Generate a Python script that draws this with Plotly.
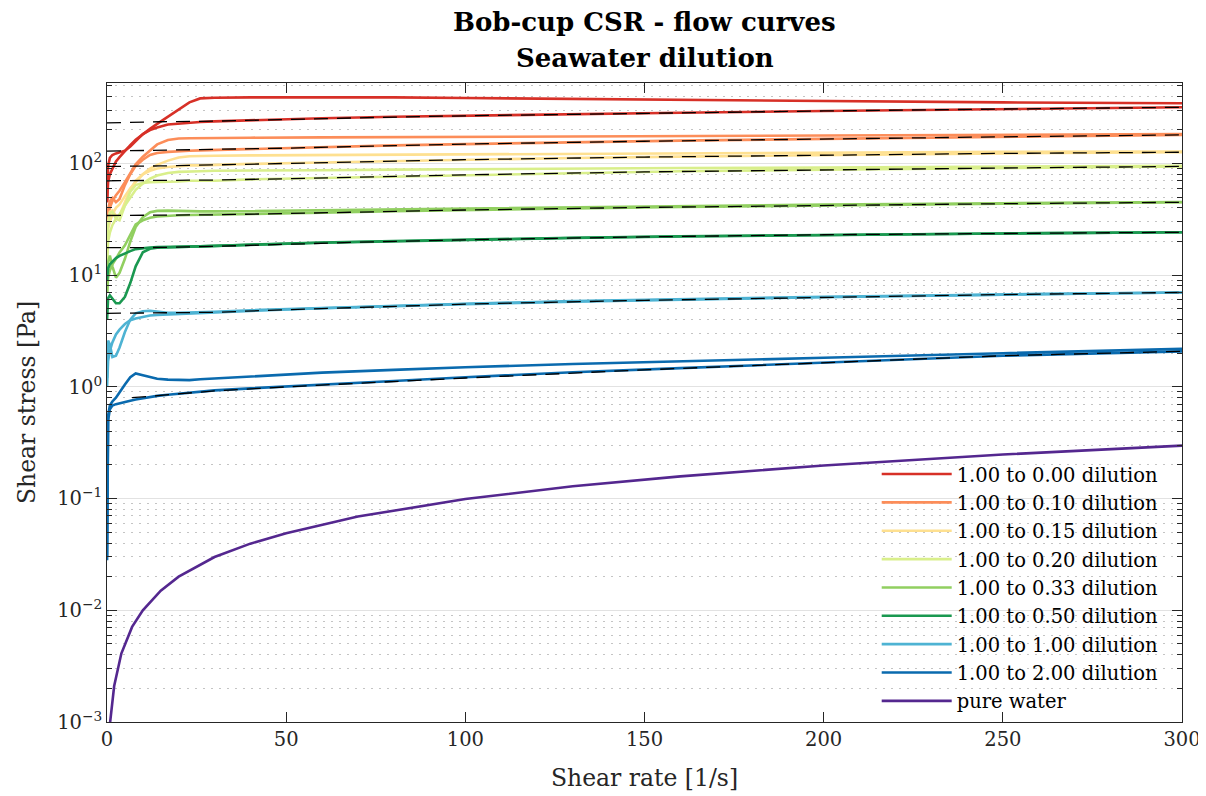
import plotly.graph_objects as go

# shared shear-rate grid for the measured runs [1/s]
RATE = [0.02, 0.3, 0.8, 1.5, 2.5, 3.5, 5, 6.5, 8, 10, 12, 14, 17, 20, 23, 26, 30,
        40, 60, 80, 100, 130, 160, 200, 250, 300]
# shear-rate grid for the model fits
FIT_RATE = [0, 7, 15, 30, 50, 75, 100, 150, 200, 250, 300]

LABELS = ["1.00 to 0.00 dilution", "1.00 to 0.10 dilution", "1.00 to 0.15 dilution",
          "1.00 to 0.20 dilution", "1.00 to 0.33 dilution", "1.00 to 0.50 dilution",
          "1.00 to 1.00 dilution", "1.00 to 2.00 dilution"]
COLORS = ["#d73027", "#fc8d59", "#fee090", "#d9ef8b", "#91cf60", "#1a9850",
          "#4eb3d3", "#0a6aae"]

# y tick labels
Y_TICKS = [0.001, 0.01, 0.1, 1, 10, 100]
Y_TICKTEXT = ["10<sup>−3</sup>", "10<sup>−2</sup>", "10<sup>−1</sup>", "10<sup>0</sup>",
              "10<sup>1</sup>", "10<sup>2</sup>"]
X_TICKS = [0, 50, 100, 150, 200, 250, 300]

# shear stress [Pa], run 1 / run 2 / fit, per dilution
d000_run1 = [45, 68, 80, 90, 104, 114, 130, 146, 163, 183, 204, 226, 263, 303, 352, 382, 387,
             390, 392, 390, 385, 378, 372, 362, 352, 346]
d000_run2 = [45, 95, 112, 119, 123, 125, 130, 142, 158, 183, 199, 210, 223, 228, 232, 235, 238,
             244, 254, 262, 268, 277, 284, 295, 307, 318]
d000_fit = [231, 234, 236, 239, 248, 258, 267, 282, 295, 307, 318]

d010_run1 = [22, 33, 40, 46, 52, 57, 68, 82, 98, 115, 130, 148, 162, 167, 168, 168, 169,
             170, 171, 172, 173, 174, 176, 177, 179, 183]
d010_run2 = [22, 38, 46, 49, 45, 48, 64, 80, 95, 108, 119, 124, 127, 129, 130, 131, 132,
             135, 140, 145, 149, 155, 160, 166, 173, 180]
d010_fit = [129, 130, 131, 133, 137, 143, 149, 158, 166, 173, 180]

d015_run1 = [16, 26, 30, 35, 40, 43, 51, 60, 68, 80, 90, 97, 106, 113, 116, 117, 117,
             118, 119, 120, 121, 122, 123, 125, 127, 128]
d015_run2 = [16, 30, 37, 38, 34, 34, 45, 58, 70, 80, 86, 90, 93, 95, 96, 96, 97,
             99, 102, 105, 108, 112, 115, 119, 123, 126]
d015_fit = [94, 94, 95, 97, 100, 104, 108, 114, 119, 123, 126]

d020_run1 = [13, 20, 24, 28, 32, 35, 42, 50, 58, 66, 73, 78, 82, 84, 85, 85, 86,
             86, 87, 88, 89, 90, 91, 92, 94, 95]
d020_run2 = [13, 28, 36, 37, 32, 31, 42, 56, 64, 67, 68, 68, 69, 69, 70, 70, 70,
             72, 74, 77, 79, 82, 85, 88, 91, 94]
d020_fit = [70, 70, 70, 71, 73, 76, 79, 84, 88, 91, 94]

d033_run1 = [7, 13, 15, 12, 9.5, 10.5, 14, 20, 27, 33, 36.5, 37.6, 37.8, 37.5, 37.3, 37.2, 37.2,
             37.5, 38.3, 39, 39.8, 40.8, 41.7, 42.8, 44, 45.2]
d033_run2 = [7, 9.5, 11, 12.5, 14, 16, 18.5, 23, 28.5, 31, 32.7, 33.5, 34.2, 34.4, 34.5, 34.6, 34.7,
             35.2, 36.3, 37.3, 38.3, 39.6, 40.8, 42.2, 43.6, 44.9]
d033_fit = [34.2, 34.2, 34.3, 34.7, 35.6, 37.0, 38.3, 40.4, 42.2, 43.6, 44.9]

d050_run1 = [4, 6.2, 6.6, 6.2, 5.6, 5.6, 6.4, 8.5, 12, 16, 17.2, 17.6, 17.8, 17.9, 18, 18.1, 18.3,
             18.8, 19.6, 20.2, 20.8, 21.6, 22.3, 23, 23.6, 24.2]
d050_run2 = [9, 11.5, 12.5, 13.3, 14.2, 14.9, 15.7, 16.4, 17.1, 17.5, 17.7, 17.8, 17.8, 17.9, 18, 18.1, 18.2,
             18.7, 19.5, 20.1, 20.7, 21.5, 22.2, 22.9, 23.6, 24.2]
d050_fit = [17.6, 17.6, 17.7, 18.1, 18.9, 19.9, 20.7, 22.0, 23.0, 23.6, 24.2]

d100_run1 = [1.2, 2.6, 2.4, 1.85, 1.9, 2.25, 3.1, 4.0, 4.55, 4.75, 4.8, 4.7, 4.6, 4.6, 4.62, 4.65, 4.7,
             4.85, 5.1, 5.35, 5.55, 5.85, 6.1, 6.4, 6.7, 7.0]
d100_run2 = [1.0, 1.7, 2.1, 2.5, 2.95, 3.25, 3.65, 3.95, 4.1, 4.25, 4.35, 4.4, 4.45, 4.5, 4.55, 4.58, 4.62,
             4.78, 5.05, 5.3, 5.5, 5.8, 6.05, 6.35, 6.7, 7.0]
d100_fit = [4.55, 4.56, 4.58, 4.65, 4.9, 5.2, 5.5, 5.95, 6.35, 6.7, 7.0]

d200_run1 = [0.03, 0.55, 0.68, 0.74, 0.8, 0.9, 1.05, 1.22, 1.32, 1.27, 1.22, 1.18, 1.16, 1.15, 1.15, 1.17, 1.19,
             1.24, 1.34, 1.42, 1.5, 1.6, 1.7, 1.82, 2.0, 2.19]
d200_run2 = [0.028, 0.5, 0.63, 0.68, 0.7, 0.71, 0.73, 0.75, 0.77, 0.79, 0.81, 0.83, 0.85, 0.87, 0.89, 0.91, 0.93,
             0.97, 1.04, 1.13, 1.22, 1.35, 1.47, 1.65, 1.9, 2.08]
d200_fit = [None, 0.80, 0.84, 0.92, 1.0, 1.1, 1.2, 1.42, 1.65, 1.9, 2.08]

WATER_RATE = [0.8, 1, 2, 4, 7, 10, 15, 20, 30, 40, 50, 70, 100, 130, 160, 200, 250, 300]
water = [0.00095, 0.0011, 0.0021, 0.0041, 0.0071, 0.0100, 0.0150, 0.0200, 0.0300, 0.0395,
         0.049, 0.069, 0.099, 0.129, 0.158, 0.198, 0.248, 0.298]

RUNS1 = [d000_run1, d010_run1, d015_run1, d020_run1, d033_run1, d050_run1, d100_run1, d200_run1]
RUNS2 = [d000_run2, d010_run2, d015_run2, d020_run2, d033_run2, d050_run2, d100_run2, d200_run2]
FITS = [d000_fit, d010_fit, d015_fit, d020_fit, d033_fit, d050_fit, d100_fit, d200_fit]

FONT = "DejaVu Serif"
TXT = "#262626"
fig = go.Figure()
for i, lab in enumerate(LABELS):
    g = f"g{i}"
    fig.add_trace(go.Scatter(x=RATE, y=RUNS1[i], mode="lines", name=lab, legendgroup=g,
                             line=dict(color=COLORS[i], width=2.6)))
    fig.add_trace(go.Scatter(x=RATE, y=RUNS2[i], mode="lines", name=lab, legendgroup=g,
                             showlegend=False, line=dict(color=COLORS[i], width=2.6)))
    fig.add_trace(go.Scatter(x=FIT_RATE, y=FITS[i], mode="lines", name=lab + " fit",
                             legendgroup=g, showlegend=False, connectgaps=False,
                             line=dict(color="black", width=1.3, dash="14px,9px")))
fig.add_trace(go.Scatter(x=WATER_RATE, y=water, mode="lines", name="pure water",
                         legendgroup="gw", line=dict(color="#54278f", width=2.6)))

axcol = "#262626"
# the page places the figure 8px from the top-left corner
fig.update_layout(
    width=1198, height=788,
    margin=dict(l=99, r=24, t=75, b=74, autoexpand=False),
    paper_bgcolor="white", plot_bgcolor="white",
    font=dict(family=FONT, size=19, color=TXT),
    showlegend=True,
    legend=dict(x=0.716, y=0.418, xanchor="left", yanchor="top",
                bgcolor="rgba(0,0,0,0)", borderwidth=0,
                font=dict(family=FONT, size=19.5, color="#000000"),
                traceorder="grouped", tracegroupgap=0, itemwidth=70),
    annotations=[
        dict(text="<b>Bob-cup CSR - flow curves</b>", x=0.5, y=1.0955, xref="paper", yref="paper",
             xanchor="center", yanchor="middle", showarrow=False,
             font=dict(family=FONT, size=26, color="#000000")),
        dict(text="<b>Seawater dilution</b>", x=0.5, y=1.039, xref="paper", yref="paper",
             xanchor="center", yanchor="middle", showarrow=False,
             font=dict(family=FONT, size=26, color="#000000")),
    ],
)
fig.update_xaxes(
    range=[0, 300], tickvals=X_TICKS, automargin=False,
    ticks="inside", ticklen=10, tickcolor=axcol, tickwidth=1,
    showline=True, linecolor=axcol, linewidth=1, mirror="allticks",
    showgrid=False, zeroline=False,
    tickfont=dict(family=FONT, size=19.5, color=TXT),
    title=dict(text="Shear rate [1/s]", font=dict(family=FONT, size=23.5, color=TXT), standoff=19),
)
fig.update_yaxes(
    type="log", range=[-3, 2.72], tickvals=Y_TICKS, ticktext=Y_TICKTEXT, automargin=False,
    ticks="inside", ticklen=10, tickcolor=axcol, tickwidth=1,
    showline=True, linecolor=axcol, linewidth=1, mirror="allticks",
    showgrid=True, gridcolor="#e2e2e2", gridwidth=1, zeroline=False,
    minor=dict(ticks="inside", ticklen=5, tickcolor=axcol, dtick="D1",
               showgrid=True, gridcolor="#c4c4c4", griddash="2px,6px", gridwidth=1),
    tickfont=dict(family=FONT, size=19.5, color=TXT),
    title=dict(text="Shear stress [Pa]", font=dict(family=FONT, size=23.5, color=TXT), standoff=14),
)
fig.write_html("out.html")
